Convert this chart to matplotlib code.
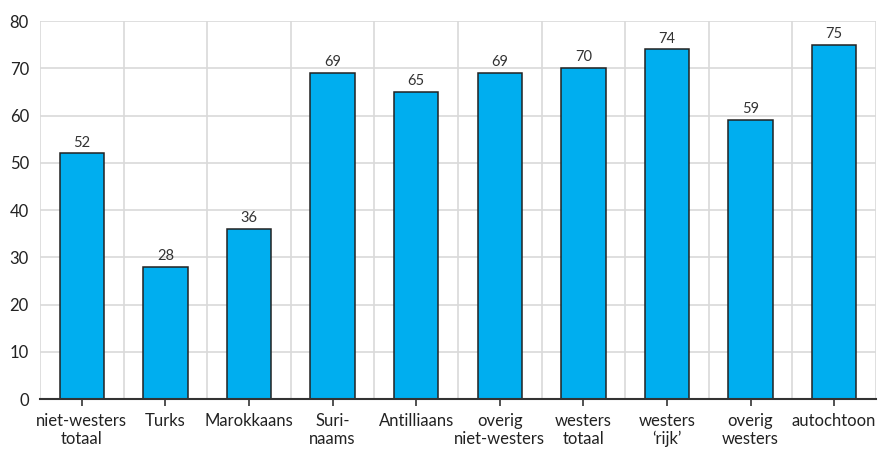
import matplotlib
matplotlib.use("Agg")
import matplotlib.pyplot as plt

categories = ["niet-westers\ntotaal", "Turks", "Marokkaans", "Suri-\nnaams", "Antilliaans",
              "overig\nniet-westers", "westers\ntotaal", "westers\n\u2018rijk\u2019", "overig\nwesters",
              "autochtoon"]
values = [52, 28, 36, 69, 65, 69, 70, 74, 59, 75]
yticks = [0, 10, 20, 30, 40, 50, 60, 70, 80]

plt.rcParams['font.family'] = ['Lato', 'DejaVu Sans']

fig = plt.figure(figsize=(8.79, 4.5), dpi=100)
ax = fig.add_axes([0.0455, 0.1133, 0.951, 0.84])

x = list(range(len(values)))
bars = ax.bar(x, values, width=0.53, color="#00aeef", edgecolor="#222222", linewidth=1.1, zorder=3)
for xi, v in zip(x, values):
    ax.text(xi, v + 0.8, str(v), ha="center", va="bottom", fontsize=10.5, color="#333333")

ax.set_xlim(-0.5, len(values) - 0.5)
ax.set_ylim(0, 80)
ax.set_yticks(yticks)
ax.set_xticks(x)
ax.set_xticklabels(categories, fontsize=12, color="#222222", linespacing=1.15)
ax.tick_params(axis="y", length=0, labelsize=12, labelcolor="#222222", pad=8)
ax.tick_params(axis="x", length=5, width=1.2, color="#333333", pad=5)

# grid: horizontal at ticks, vertical at category boundaries
for yv in yticks[1:]:
    ax.axhline(yv, color="#d9d9d9", linewidth=1.2, zorder=1)
for b in range(len(values) + 1):
    ax.axvline(b - 0.5, color="#d9d9d9", linewidth=1.2, zorder=1)

for s in ["top", "right", "left"]:
    ax.spines[s].set_visible(False)
ax.spines["bottom"].set_color("#333333")
ax.spines["bottom"].set_linewidth(1.5)
ax.spines["bottom"].set_zorder(4)

fig.savefig("out.png", dpi=100)
